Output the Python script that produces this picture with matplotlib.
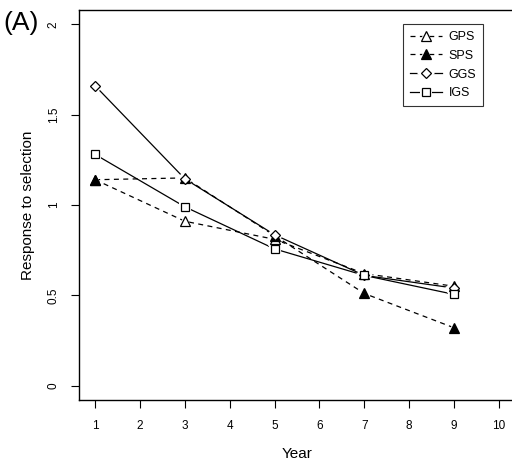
import matplotlib
matplotlib.use("Agg")
import matplotlib.pyplot as plt
from matplotlib.legend_handler import HandlerTuple

plt.rcParams['font.family'] = ['Liberation Sans', 'DejaVu Sans']

years = [1, 3, 5, 7, 9]
gps = [1.14, 0.91, 0.81, 0.62, 0.55]
sps = [1.14, 1.15, 0.83, 0.51, 0.32]
ggs = [1.66, 1.145, 0.835, 0.61, 0.54]
igs = [1.28, 0.99, 0.757, 0.61, 0.505]
xticks = list(range(1, 11))
yticks = [0, 0.5, 1, 1.5, 2]
ytick_labels = ['0', '0.5', '1', '1.5', '2']

fig = plt.figure(figsize=(5.12, 4.67), dpi=100)
ax = fig.add_axes([79/512, 1-400/467, 436/512, 390/467])

dash = (0, (4, 3.5))
lw = 0.9
series = [
    ('GPS', gps, dash, '^', 'white', 6.5),
    ('SPS', sps, dash, '^', 'black', 6.5),
    ('GGS', ggs, '-', 'D', 'white', 5.5),
    ('IGS', igs, '-', 's', 'white', 5.5),
]
handles = []
labels = []
for name, vals, ls, mk, fc, ms in series:
    ln, = ax.plot(years, vals, linestyle=ls, color='black', lw=lw, zorder=2)
    halo, = ax.plot(years, vals, linestyle='none', marker=mk, mfc='white', mec='white',
                    ms=ms + 3.5, mew=0, zorder=2.5)
    mkr, = ax.plot(years, vals, linestyle='none', marker=mk, mfc=fc, mec='black',
                   ms=ms, mew=0.9, zorder=3)
    handles.append((ln, halo, mkr))
    labels.append(name)

ax.set_xlim(0.64, 10.36)
ax.set_ylim(-0.08, 2.08)
ax.set_xticks(xticks)
ax.set_xticklabels([str(v) for v in xticks], fontsize=8.5)
ax.set_yticks(yticks)
ax.set_yticklabels(ytick_labels, fontsize=8.5, rotation=90, va='center')
ax.tick_params(axis='x', direction='out', length=5.5, width=0.8, pad=9)
ax.tick_params(axis='y', direction='out', length=5.5, width=0.8, pad=8.5)
for s in ax.spines.values():
    s.set_linewidth(1.0)

ax.set_xlabel('Year', fontsize=11, labelpad=11)
ax.set_ylabel('Response to selection', fontsize=11, labelpad=9)

leg = ax.legend(handles, labels, handler_map={tuple: HandlerTuple(ndivide=1, pad=0)},
                loc='upper left', bbox_to_anchor=((403-79)/436, 1-(24-10)/390),
                fontsize=9, frameon=True, fancybox=False, edgecolor='black',
                handlelength=2.6, handletextpad=0.5, borderpad=0.55, labelspacing=0.55,
                borderaxespad=0)
leg.get_frame().set_linewidth(0.8)

fig.text(3/512, 1-23/467, '(A)', fontsize=19, va='center', ha='left')

fig.savefig('out.png', dpi=100)
